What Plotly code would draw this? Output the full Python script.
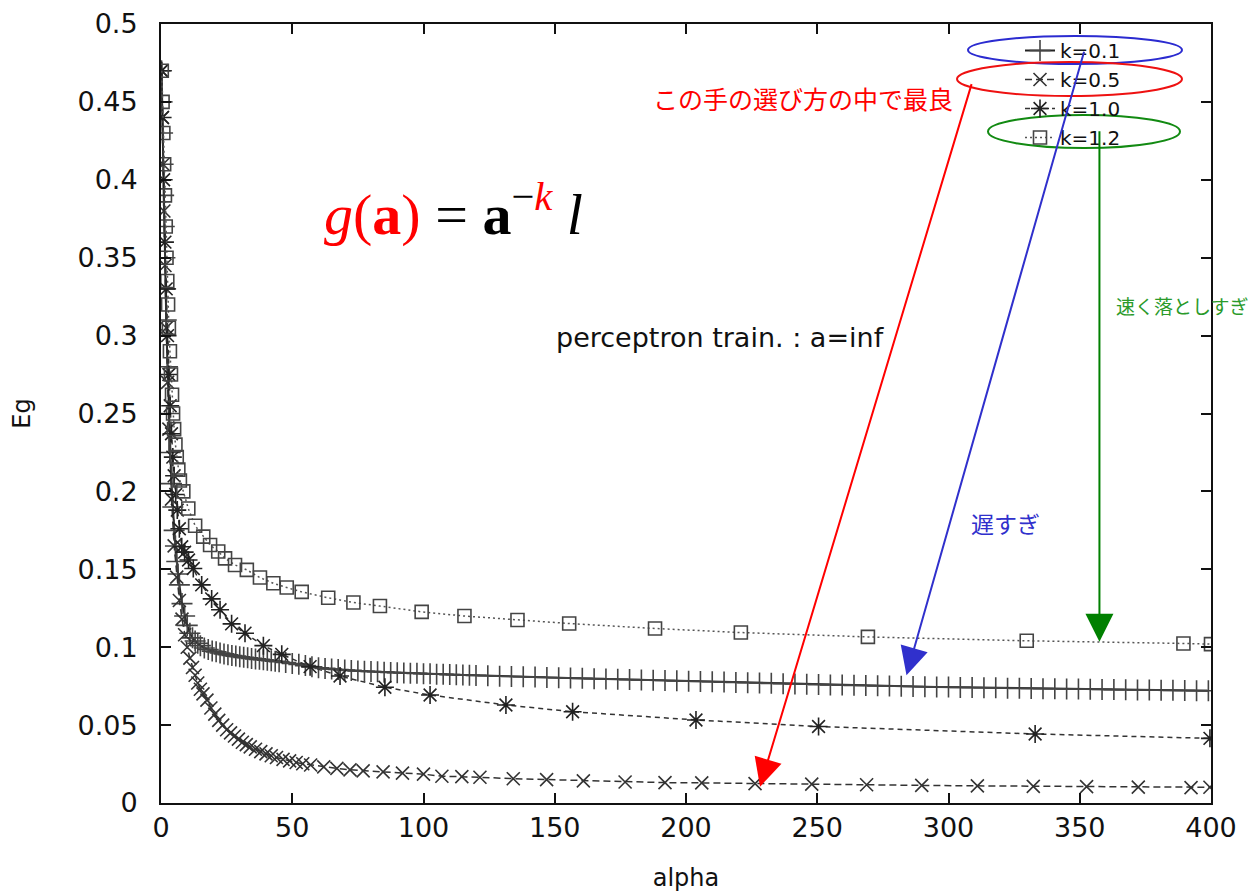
import plotly.graph_objects as go

# ---------------- data ----------------
alpha_k01 = [0.2, 0.4, 0.6, 0.8, 1.0, 1.25, 1.5, 1.75, 2.0, 2.5, 3.0, 3.5, 4.0, 4.5, 5.0, 5.5, 6.0, 6.5, 7.0,
             8, 9, 10, 11, 12, 13, 14, 15, 16.5, 18, 19.5, 21, 22.5, 24, 25.5, 27, 28.5, 30, 31.5, 33, 34.5,
             36, 37.5, 39, 40.5, 42, 43.5, 45, 47.5, 50, 52.5, 55, 57.5, 60, 62.5, 65, 67.5, 70, 72.5, 75,
             77.5, 80, 82.5, 85, 87.5, 90, 92.5, 95, 97.5, 100, 102.5, 105, 107.5, 110, 112.5, 115, 117.5,
             120, 124.5, 129, 133.5, 138, 142.5, 147, 151.5, 156, 160.5, 165, 169.5, 174, 178.5, 183,
             187.5, 192, 196.5, 201, 205.5, 210, 214.5, 219, 223.5, 228, 232.5, 237, 241.5, 246, 250.5,
             255, 259.5, 264, 268.5, 273, 277.5, 282, 286.5, 291, 295.5, 300, 304.5, 309, 313.5, 318,
             322.5, 327, 331.5, 336, 340.5, 345, 349.5, 354, 358.5, 363, 367.5, 372, 376.5, 381, 385.5,
             390, 394.5, 399]
eg_k01 = [0.47, 0.45, 0.43, 0.41, 0.39, 0.37, 0.35, 0.33, 0.31, 0.28, 0.25, 0.225, 0.205, 0.19, 0.175, 0.165,
          0.155, 0.147, 0.14, 0.128, 0.12, 0.114, 0.109, 0.106, 0.104, 0.1025, 0.101, 0.0995, 0.0985, 0.0975,
          0.097, 0.0963, 0.0957, 0.0952, 0.0947, 0.0943, 0.0939, 0.0935, 0.0932, 0.0928, 0.0925, 0.0922,
          0.0919, 0.0916, 0.0913, 0.091, 0.0907, 0.0902, 0.0895, 0.089, 0.0882, 0.0874, 0.0868, 0.0864,
          0.086, 0.0857, 0.0854, 0.0851, 0.0848, 0.0846, 0.0844, 0.0842, 0.084, 0.0838, 0.0836, 0.0835,
          0.0833, 0.0832, 0.083, 0.0829, 0.0827, 0.0826, 0.0824, 0.0823, 0.0822, 0.082, 0.0819, 0.0817,
          0.0814, 0.0812, 0.081, 0.0808, 0.0806, 0.0804, 0.0802, 0.08, 0.0798, 0.0796, 0.0794, 0.0792,
          0.079, 0.0788, 0.0786, 0.0784, 0.0782, 0.078, 0.0778, 0.0776, 0.0774, 0.0772, 0.077, 0.0768,
          0.0766, 0.0764, 0.0762, 0.076, 0.0758, 0.0757, 0.0755, 0.0754, 0.0752, 0.0751, 0.0749, 0.0748,
          0.0746, 0.0745, 0.0744, 0.0742, 0.0741, 0.074, 0.0739, 0.0737, 0.0736, 0.0735, 0.0734, 0.0733,
          0.0732, 0.0731, 0.073, 0.0729, 0.0728, 0.0727, 0.0726, 0.0725, 0.0724, 0.0723, 0.0722, 0.0721,
          0.072]

alpha_k05 = [0.2, 0.5, 0.8, 1.1, 1.5, 2.0, 2.5, 3, 4, 5, 6, 7, 8, 9, 10, 11, 12, 13, 14, 15, 16, 17.5, 19,
             20.5, 22, 23.5, 25, 26.5, 28, 29.5, 31, 32.5, 34, 36, 38, 40, 42, 44, 46.5, 49, 51.5, 54, 57,
             62, 67, 72, 77, 84.6, 92, 100, 107, 114.6, 121.5, 134.2, 146.9, 160.9, 176.8, 192, 206, 226.3,
             247.9, 268.8, 289.8, 311, 332.3, 352.6, 372.3, 392.4, 399.6]
eg_k05 = [0.47, 0.44, 0.41, 0.38, 0.345, 0.305, 0.27, 0.24, 0.195, 0.165, 0.145, 0.13, 0.118, 0.108, 0.1,
          0.093, 0.087, 0.082, 0.077, 0.073, 0.07, 0.066, 0.061, 0.057, 0.053, 0.05, 0.047, 0.045, 0.043,
          0.041, 0.039, 0.0375, 0.036, 0.0345, 0.033, 0.0315, 0.0303, 0.0292, 0.028, 0.027, 0.026, 0.0252,
          0.0244, 0.0232, 0.0222, 0.0213, 0.0206, 0.02, 0.0192, 0.0185, 0.0172, 0.0169, 0.0165, 0.0156,
          0.015, 0.0142, 0.0135, 0.0131, 0.0129, 0.0124, 0.0121, 0.0117, 0.0113, 0.011, 0.0107, 0.0105,
          0.0102, 0.0099, 0.0101]

alpha_k10 = [0.3, 0.6, 1.0, 1.5, 2.0, 2.5, 3.0, 3.5, 4.0, 4.5, 5.0, 5.6, 6.2, 7.0, 7.9, 9.0, 10.5, 12.3,
             15.5, 19.3, 22.5, 26.9, 32, 39, 46, 56.8, 68.2, 85.3, 102.5, 131.4, 156.8, 203.8, 250.5, 333,
             399.6]
eg_k10 = [0.47, 0.44, 0.4, 0.36, 0.33, 0.3, 0.275, 0.255, 0.237, 0.222, 0.21, 0.198, 0.188, 0.176, 0.1645,
          0.161, 0.156, 0.1505, 0.14, 0.131, 0.124, 0.115, 0.109, 0.101, 0.0954, 0.0875, 0.0815, 0.0743,
          0.0693, 0.0629, 0.0586, 0.0533, 0.0491, 0.0443, 0.0415]

alpha_k12 = [0.3, 0.6, 0.9, 1.2, 1.5, 1.8, 2.1, 2.4, 2.7, 3.0, 3.4, 3.8, 4.2, 4.6, 5.0, 5.5, 6.0, 6.6, 7.2,
             8.5, 10.4, 13, 16.1, 18.7, 21.8, 24.4, 28.2, 32.7, 37.7, 42.8, 47.9, 53.6, 63.7, 73.3, 83.4,
             99.3, 115.6, 135.8, 155.5, 188.2, 220.9, 269.3, 329.8, 389.5, 400]
eg_k12 = [0.47, 0.45, 0.43, 0.41, 0.39, 0.37, 0.35, 0.335, 0.32, 0.305, 0.29, 0.275, 0.262, 0.25, 0.24,
          0.23, 0.222, 0.214, 0.207, 0.2, 0.189, 0.178, 0.171, 0.1656, 0.1614, 0.157, 0.1528, 0.1496,
          0.1447, 0.141, 0.1383, 0.1355, 0.1317, 0.1287, 0.1264, 0.1227, 0.12, 0.1175, 0.1152, 0.112,
          0.1094, 0.1066, 0.1041, 0.1024, 0.102]

x_ticks = [0, 50, 100, 150, 200, 250, 300, 350, 400]
y_ticks = [0, 0.05, 0.1, 0.15, 0.2, 0.25, 0.3, 0.35, 0.4, 0.45, 0.5]
y_tick_text = ["0", "0.05", "0.1", "0.15", "0.2", "0.25", "0.3", "0.35", "0.4", "0.45", "0.5"]

# ---------------- figure ----------------
W, H = 1250, 893
L, R, T, B = 161, 39, 24, 90
PW, PH = W - L - R, H - T - B


def px_x(p):
    return (p - L) / PW


def px_y(p):
    return (H - B - p) / PH


fig = go.Figure()
fig.add_trace(go.Scatter(
    x=alpha_k01, y=eg_k01, name="k=0.1", mode="lines+markers",
    line=dict(color="#222222", width=2),
    marker=dict(symbol="cross-thin-open", size=15, color="#444444", line=dict(width=1.6, color="#444444"))))
fig.add_trace(go.Scatter(
    x=alpha_k05, y=eg_k05, name="k=0.5", mode="lines+markers",
    line=dict(color="#333333", width=1.5, dash="7px,4px"),
    marker=dict(symbol="x-thin-open", size=13, color="#333333", line=dict(width=1.6, color="#333333"))))
fig.add_trace(go.Scatter(
    x=alpha_k10, y=eg_k10, name="k=1.0", mode="lines+markers",
    line=dict(color="#333333", width=1.5, dash="5px,4px"),
    marker=dict(symbol="asterisk-open", size=15, color="#222222", line=dict(width=1.6, color="#222222"))))
fig.add_trace(go.Scatter(
    x=alpha_k12, y=eg_k12, name="k=1.2", mode="lines+markers",
    line=dict(color="#555555", width=1.5, dash="2px,3px"),
    marker=dict(symbol="square-open", size=13, color="#444444", line=dict(width=1.6, color="#444444"))))

font_main = "DejaVu Sans"

# ellipses around legend entries
ellipses = [
    ("#2b2bd0", 968, 36, 1182, 64),
    ("#ee1111", 957, 62, 1182, 96),
    ("#128a12", 988, 115, 1180, 148),
]
for col, x0, y0, x1, y1 in ellipses:
    fig.add_shape(type="circle", xref="paper", yref="paper",
                  x0=px_x(x0), x1=px_x(x1), y0=px_y(y1), y1=px_y(y0),
                  line=dict(color=col, width=2), layer="above")

# arrows (head position in data coords, tail offset in pixels)
arrows = [
    ("#ff0000", 228.2, 0.0105, 212, -704),
    ("#3030cc", 284.0, 0.082, 178, -625),
    ("#008000", 357.5, 0.1035, 0, -512),
]
for col, hx, hy, ax, ay in arrows:
    fig.add_annotation(x=hx, y=hy, ax=ax, ay=ay, xref="x", yref="y", text="",
                       showarrow=True, arrowhead=2, arrowsize=2.8, arrowwidth=2, arrowcolor=col)

# texts
fig.add_annotation(xref="paper", yref="paper", x=px_x(955), y=px_y(98), xanchor="right", yanchor="middle",
                   text="この手の選び方の中で最良", showarrow=False,
                   font=dict(family="Noto Sans CJK JP", size=25, color="#ff0000"))
fig.add_annotation(xref="paper", yref="paper", x=px_x(969), y=px_y(523), xanchor="left", yanchor="middle",
                   text="遅すぎ", showarrow=False,
                   font=dict(family="Noto Sans CJK JP", size=23, color="#3030cc"))
fig.add_annotation(xref="paper", yref="paper", x=px_x(1114), y=px_y(305), xanchor="left", yanchor="middle",
                   text="速く落としすぎ", showarrow=False,
                   font=dict(family="Noto Sans CJK JP", size=19, color="#2a9a2a"))
fig.add_annotation(xref="paper", yref="paper", x=px_x(554), y=px_y(337), xanchor="left", yanchor="middle",
                   text="perceptron train. : a=inf", showarrow=False,
                   font=dict(family=font_main, size=27, color="#111111"))
fig.add_annotation(xref="paper", yref="paper", x=px_x(322), y=px_y(210), xanchor="left", yanchor="middle",
                   text=("<span style='color:#ff0000'><i>g</i>(<b>a</b>)</span> = <b>a</b>"
                         "<sup>−<span style='color:#ff0000'><i>k</i></span></sup> <i>l</i>"),
                   showarrow=False,
                   font=dict(family="Liberation Serif", size=58, color="#000000"))

axis_common = dict(showline=True, linecolor="#111111", linewidth=2, mirror="ticks",
                   ticks="inside", ticklen=10, tickwidth=1.5, tickcolor="#111111",
                   showgrid=False, zeroline=False,
                   tickfont=dict(family=font_main, size=27, color="#111111"))

fig.update_layout(
    width=W, height=H,
    margin=dict(l=L, r=R, t=T, b=B, autoexpand=False),
    paper_bgcolor="white", plot_bgcolor="white",
    xaxis=dict(range=[0, 400], tickvals=x_ticks,
               title=dict(text="alpha", standoff=27, font=dict(family=font_main, size=24, color="#111111")),
               **axis_common),
    yaxis=dict(range=[0, 0.5], tickvals=y_ticks, ticktext=y_tick_text, ticklabelstandoff=16,
               title=dict(text="Eg", standoff=40, font=dict(family=font_main, size=24, color="#111111")),
               **axis_common),
    legend=dict(x=px_x(1020), y=px_y(31), xanchor="left", yanchor="top",
                bgcolor="rgba(0,0,0,0)", borderwidth=0,
                font=dict(family=font_main, size=20, color="#111111"), tracegroupgap=0),
    showlegend=True,
)

fig.write_html("out.html")
